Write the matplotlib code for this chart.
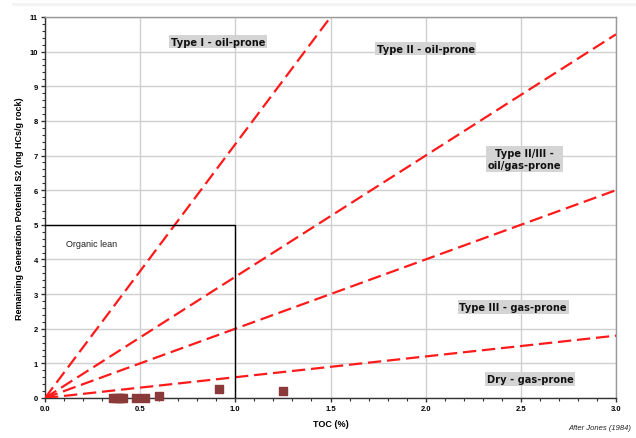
import matplotlib
matplotlib.use("Agg")
import matplotlib.pyplot as plt
from matplotlib.ticker import MultipleLocator
from matplotlib.patches import Rectangle

# Data
toc = [0.357, 0.375, 0.39, 0.40, 0.41, 0.478, 0.525, 0.60, 0.914, 1.25]
s2 = [0.0, 0.0, 0.0, 0.0, 0.0, 0.0, 0.0, 0.05, 0.26, 0.21]

line_slopes = [7.33, 3.5, 2.0, 0.6]
line_xmax = 3.0

zone_labels = ["Type I - oil-prone", "Type II - oil-prone", "Type II/III -\noil/gas-prone",
               "Type III - gas-prone", "Dry - gas-prone"]
zone_x = [0.91, 2.0, 2.52, 2.46, 2.55]
zone_y = [10.29, 10.09, 6.9, 2.63, 0.55]

lean_box_x = [0, 1.0, 1.0]
lean_box_y = [5.0, 5.0, 0]

fig = plt.figure(figsize=(6.36, 4.39), dpi=100)
fig.patches.append(Rectangle((12/636, 1 - 7/439), 1 - 12/636, 3/439, transform=fig.transFigure,
                             facecolor="#f3f3f3", edgecolor="none"))
ax = fig.add_axes([45/636, 40/439, 571/636, 381/439])

ax.set_xlim(0, 3.0)
ax.set_ylim(0, 11)

ax.grid(True, which="major", color="#d0d0d0", linewidth=1.0)
ax.set_axisbelow(True)

for m in line_slopes:
    ax.plot([0, line_xmax], [0, m * line_xmax], color="#ff1a1a", lw=1.6,
            dashes=(6, 2.6), zorder=3)

ax.plot(lean_box_x, lean_box_y, color="black", lw=1.0, zorder=3)
ax.text(0.11, 4.4, "Organic lean", fontsize=6.5, family="Liberation Sans", color="#222222")

ax.scatter(toc, s2, marker="s", s=32, color="#8b3a3a", zorder=4, clip_on=False)

for lab, x, y in zip(zone_labels, zone_x, zone_y):
    ax.text(x, y, lab, ha="center", va="center", fontsize=7.1, fontweight="bold",
            family="DejaVu Sans", color="#111111", linespacing=1.2,
            bbox=dict(boxstyle="square,pad=0.18", facecolor="#d4d4d4", edgecolor="none"),
            zorder=5)

ax.xaxis.set_major_locator(MultipleLocator(0.5))
ax.xaxis.set_minor_locator(MultipleLocator(0.1))
ax.yaxis.set_major_locator(MultipleLocator(1))
ax.yaxis.set_minor_locator(MultipleLocator(0.2))
ax.xaxis.set_major_formatter(matplotlib.ticker.FormatStrFormatter("%.1f"))

ax.tick_params(which="major", direction="out", length=3, width=1, color="#333333",
               labelsize=5.5, pad=2)
ax.tick_params(which="minor", direction="out", length=2, width=0.8, color="#333333")
for lbl in ax.get_xticklabels() + ax.get_yticklabels():
    lbl.set_fontweight("bold")
    lbl.set_family("Liberation Sans")

for side in ["left", "bottom"]:
    ax.spines[side].set_color("#333333")
    ax.spines[side].set_linewidth(1.0)
for side in ["top", "right"]:
    ax.spines[side].set_color("#999999")
    ax.spines[side].set_linewidth(1.0)

ax.set_xlabel("TOC (%)", fontsize=6.5, fontweight="bold", family="Liberation Sans", labelpad=5)
ax.set_ylabel("Remaining Generation Potential S2 (mg HCs/g rock)", fontsize=6.5,
              fontweight="bold", family="Liberation Sans", labelpad=4)

fig.text(631/636, 1 - 429/439, "After Jones (1984)", ha="right", va="center", fontsize=5.5,
         style="italic", family="Liberation Sans", color="#222222")

fig.savefig("out.png", dpi=100, facecolor="white")
